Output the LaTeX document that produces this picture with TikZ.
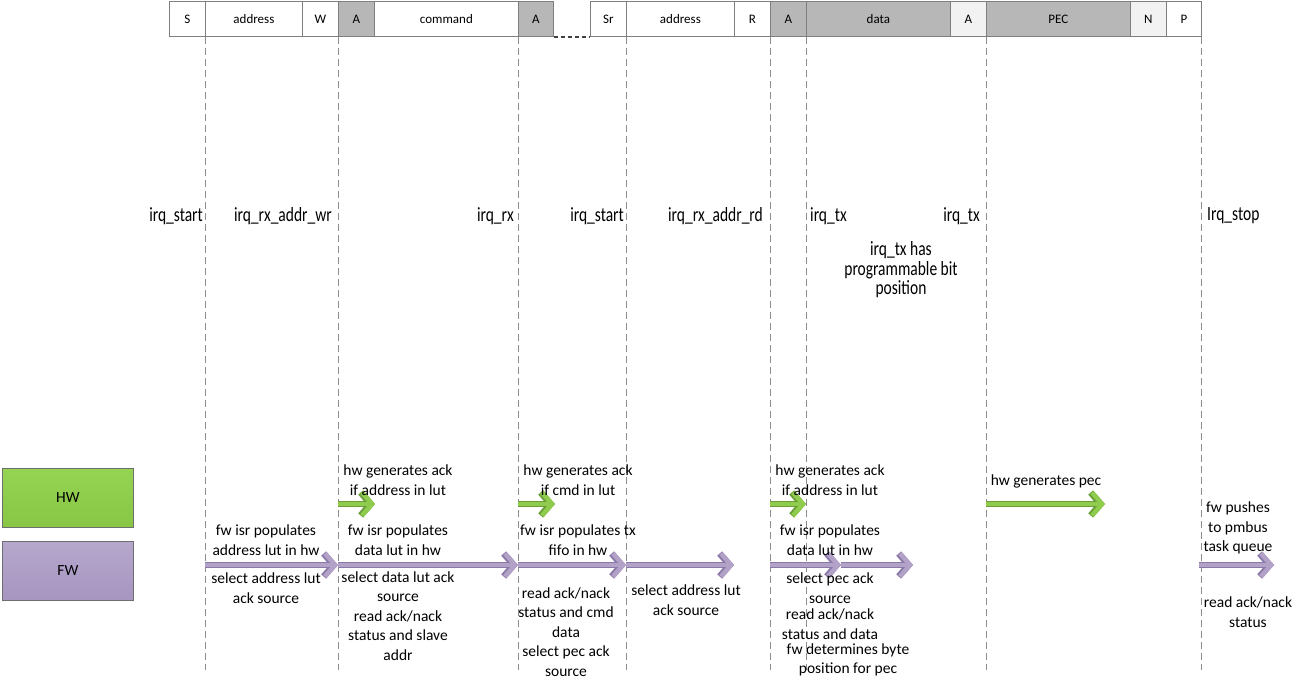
\documentclass[tikz,border=0pt]{standalone}
\usepackage{fontspec}
\setmainfont{Carlito}
\usetikzlibrary{arrows.meta}
\definecolor{cellborder}{HTML}{7F7F7F}
\definecolor{cellgray}{HTML}{B7B7B7}
\definecolor{celllight}{HTML}{F2F2F2}
\definecolor{dashgray}{HTML}{8C8C8C}
\definecolor{ginner}{HTML}{8FCC4E}
\definecolor{gouter}{HTML}{6A9F37}
\definecolor{pinner}{HTML}{B3A2C7}
\definecolor{pouter}{HTML}{8A79A8}
\definecolor{hwtop}{HTML}{95D352}
\definecolor{hwbot}{HTML}{88C646}
\definecolor{fwtop}{HTML}{B6A7CD}
\definecolor{fwbot}{HTML}{A696C0}
\definecolor{boxborder}{HTML}{6E6E6E}
\tikzset{
  cell/.style={draw=cellborder, line width=0.8pt, minimum height=35pt, inner sep=0pt, anchor=north west, font=\fontsize{13}{15}\selectfont},
  lbl/.style={align=center, inner sep=0pt, font=\fontsize{15.5}{19.5}\selectfont},
  irqlbl/.style={align=center, inner sep=0pt, font=\fontsize{15.5}{15}\selectfont, transform shape, yscale=1.3},
  seqline/.style={draw=dashgray, line width=0.8pt, dash pattern=on 7pt off 4pt},
  gap/.style={draw=black!75, line width=2.5pt, dash pattern=on 4pt off 3pt},
  legend/.style={draw=boxborder, line width=0.8pt, minimum width=131pt, minimum height=59pt, anchor=north west, inner sep=0pt, font=\fontsize{15.5}{19}\selectfont},
  garrow/.style={draw=ginner, line width=4.5pt, -{Straight Barb[length=10pt,width=23pt]},
    preaction={draw=gouter, line width=6.5pt, -{Straight Barb[length=10pt,width=23pt]}}},
  parrow/.style={draw=pinner, line width=4.5pt, -{Straight Barb[length=10pt,width=23pt]},
    preaction={draw=pouter, line width=6.5pt, -{Straight Barb[length=10pt,width=23pt]}}},
}
\begin{document}
\begin{tikzpicture}[x=1pt,y=-1pt]
\useasboundingbox[fill=white] (0,0) rectangle (1307,689);
% frame cells
\node[cell, minimum width=36pt] (cS) at (169,1) {S};
\node[cell, minimum width=97pt] (cAddr1) at (205,1) {address};
\node[cell, minimum width=36pt] (cW) at (302,1) {W};
\node[cell, minimum width=36pt, fill=cellgray] (cA1) at (338,1) {A};
\node[cell, minimum width=144pt] (cCmd) at (374,1) {command};
\node[cell, minimum width=35pt, fill=cellgray] (cA2) at (518,1) {A};
\node[cell, minimum width=36pt] (cSr) at (590,1) {Sr};
\node[cell, minimum width=108pt] (cAddr2) at (626,1) {address};
\node[cell, minimum width=36pt] (cR) at (734,1) {R};
\node[cell, minimum width=36pt, fill=cellgray] (cA3) at (770,1) {A};
\node[cell, minimum width=144pt, fill=cellgray] (cData) at (806,1) {data};
\node[cell, minimum width=36pt, fill=celllight] (cA4) at (950,1) {A};
\node[cell, minimum width=144pt, fill=cellgray] (cPEC) at (986,1) {PEC};
\node[cell, minimum width=36pt, fill=celllight] (cN) at (1130,1) {N};
\node[cell, minimum width=35pt] (cP) at (1166,1) {P};
\draw[gap] (cA2.south east) -- (cSr.south west);
% sequence lines
\foreach \n/\x in {1/205,2/338,3/518,4/626,5/770,6/806,7/986,8/1201}{
  \coordinate (lt\n) at (\x,37);
  \coordinate (lb\n) at (\x,670);
  \draw[seqline] (lt\n) -- (lb\n);
}
% irq labels
\node[irqlbl, anchor=east] (i1) at (203,216) {irq\_start};
\node[irqlbl, anchor=east] (i2) at (332,216) {irq\_rx\_addr\_wr};
\node[irqlbl, anchor=east] (i3) at (514,216) {irq\_rx};
\node[irqlbl, anchor=east] (i4) at (624,216) {irq\_start};
\node[irqlbl, anchor=east] (i5) at (763,216) {irq\_rx\_addr\_rd};
\node[irqlbl, anchor=west] (i6) at (810,216) {irq\_tx};
\node[irqlbl, anchor=east] (i7) at (980,216) {irq\_tx};
\node[irqlbl, anchor=west] (i8) at (1207,216) {Irq\_stop};
\node[irqlbl] (i9) at (901,270) {irq\_tx has\\programmable bit\\position};
% legend
\node[legend, top color=hwtop, bottom color=hwbot] (hw) at (2,468) {HW};
\node[legend, top color=fwtop, bottom color=fwbot] (fw) at (2,541) {FW};
% arrow coordinates
\coordinate (g1a) at (338,504); \coordinate (g1b) at (375,504);
\coordinate (g2a) at (518,504); \coordinate (g2b) at (555,504);
\coordinate (g3a) at (770,504); \coordinate (g3b) at (806,504);
\coordinate (g4a) at (986,504); \coordinate (g4b) at (1105,504);
\coordinate (p1) at (205,565); \coordinate (p2) at (338,565);
\coordinate (p3) at (518,565); \coordinate (p4) at (626,565);
\coordinate (p5) at (734,565); \coordinate (p6) at (770,565);
\coordinate (p7) at (841,565); \coordinate (p8) at (913,565);
\coordinate (p9) at (1199,565); \coordinate (p10) at (1274,565);
\draw[garrow] (g1a) -- (g1b);
\draw[garrow] (g2a) -- (g2b);
\draw[garrow] (g3a) -- (g3b);
\draw[garrow] (g4a) -- (g4b);
\draw[parrow] (p1) -- (p2);
\draw[parrow] (p2) -- (p3);
\draw[parrow] (p3) -- (p4);
\draw[parrow] (p4) -- (p5);
\draw[parrow] (p6) -- (p7);
\draw[parrow] (p7) -- (p8);
\draw[parrow] (p9) -- (p10);
% texts
\node[lbl] (t1) at (266,540) {fw isr populates\\address lut in hw};
\node[lbl] (t2) at (266,588) {select address lut\\ack source};
\node[lbl] (t3) at (398,480) {hw generates ack\\if address in lut};
\node[lbl] (t4) at (398,540) {fw isr populates\\data lut in hw};
\node[lbl] (t5) at (398,616) {select data lut ack\\source\\read ack/nack\\status and slave\\addr};
\node[lbl] (t6) at (578,480) {hw generates ack\\if cmd in lut};
\node[lbl] (t7) at (578,540) {fw isr populates tx\\fifo in hw};
\node[lbl] (t8) at (566,632) {read ack/nack\\status and cmd\\data\\select pec ack\\source};
\node[lbl] (t9) at (686,600) {select address lut\\ack source};
\node[lbl] (t10) at (830,480) {hw generates ack\\if address in lut};
\node[lbl] (t11) at (830,540) {fw isr populates\\data lut in hw};
\node[lbl] (t12) at (830,588) {select pec ack\\source};
\node[lbl] (t13) at (830,624) {read ack/nack\\status and data};
\node[lbl] (t14) at (848,660) {fw determines byte\\position for pec};
\node[lbl] (t15) at (1046,481) {hw generates pec};
\node[lbl] (t16) at (1238,528) {fw pushes\\to pmbus\\task queue};
\node[lbl] (t17) at (1248,612) {read ack/nack\\status};
\end{tikzpicture}
\end{document}
